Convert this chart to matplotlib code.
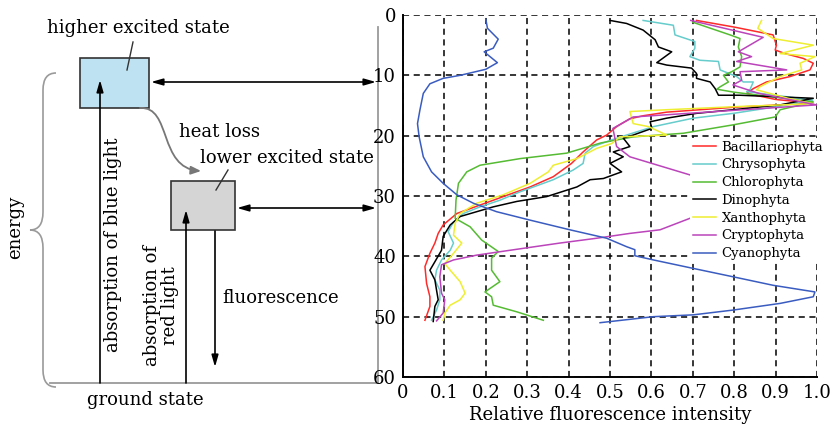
"""
Fluorescence energy diagram next to depth profiles of relative
fluorescence intensity for seven algal groups.
"""

import numpy as np
import matplotlib
matplotlib.use("Agg")
import matplotlib.pyplot as plt
from matplotlib.patches import Rectangle, PathPatch, FancyArrowPatch
from matplotlib.path import Path

plt.rcParams['font.family'] = ['DejaVu Serif']

# ---- profile data (relative intensity, depth) ----
bacillariophyta_x = [0.709, 0.80, 0.894, 0.902, 0.899, 0.923, 0.967, 0.991, 0.983, 0.935, 0.878,
                     0.846, 0.830, 0.90, 0.99, 0.798, 0.637, 0.580, 0.548, 0.516, 0.492, 0.468,
                     0.435, 0.407, 0.363, 0.307, 0.242, 0.186, 0.130, 0.097, 0.085, 0.077, 0.065,
                     0.053, 0.057, 0.065, 0.065, 0.053]
bacillariophyta_y = [0.9, 2.0, 3.3, 5.0, 5.8, 6.4, 7.2, 8.0, 9.1, 10.2, 11.1,
                     12.2, 13.0, 14.0, 14.6, 15.3, 16.1, 16.7, 17.2, 18.5, 19.9, 20.7,
                     22.7, 24.6, 26.8, 28.5, 30.1, 31.5, 32.9, 34.8, 36.2, 37.8, 39.5,
                     41.7, 44.5, 46.7, 48.3, 50.6]

chrysophyta_x = [0.580, 0.653, 0.657, 0.705, 0.705, 0.693, 0.717, 0.762, 0.766, 0.806, 0.822,
                 0.846, 0.838, 0.830, 0.99, 0.902, 0.798, 0.701, 0.605, 0.540, 0.504, 0.460,
                 0.440, 0.435, 0.411, 0.363, 0.283, 0.234, 0.186, 0.146, 0.122, 0.109, 0.122,
                 0.114, 0.093, 0.081, 0.077, 0.089, 0.089, 0.081, 0.069]
chrysophyta_y = [0.9, 1.7, 3.3, 4.4, 5.5, 6.9, 7.5, 7.7, 9.1, 10.2, 11.1,
                 11.1, 12.4, 12.7, 14.1, 15.2, 16.3, 17.1, 18.5, 19.9, 20.7, 21.8,
                 22.9, 24.6, 25.7, 27.3, 29.3, 30.7, 31.8, 32.9, 34.3, 35.9, 37.8,
                 39.0, 40.6, 42.3, 43.9, 45.6, 47.2, 48.9, 50.6]

chlorophyta_x = [0.70, 0.790, 0.814, 0.810, 0.818, 0.814, 0.794, 0.774, 0.786, 0.766, 0.758,
                 0.80, 0.991, 0.911, 0.899, 0.798, 0.677, 0.556, 0.478, 0.395, 0.283, 0.186,
                 0.154, 0.134, 0.128, 0.126, 0.162, 0.190, 0.230, 0.214, 0.214, 0.234, 0.198,
                 0.214, 0.218, 0.275, 0.339]
chlorophyta_y = [1.2, 3.3, 3.9, 5.3, 6.9, 8.6, 9.4, 10.0, 11.1, 11.9, 12.3,
                 12.8, 14.4, 15.7, 16.9, 18.2, 19.6, 20.2, 21.2, 22.9, 23.8, 24.9,
                 26.0, 27.9, 30.7, 33.7, 35.1, 37.3, 39.2, 40.3, 42.3, 44.2, 45.9,
                 46.7, 48.1, 49.2, 50.6]

dinophyta_x = [0.500, 0.540, 0.580, 0.609, 0.617, 0.649, 0.613, 0.637, 0.697, 0.709, 0.709,
               0.742, 0.754, 0.762, 0.814, 0.991, 0.911, 0.798, 0.709, 0.637, 0.597, 0.601,
               0.556, 0.532, 0.548, 0.508, 0.532, 0.500, 0.528, 0.484, 0.452, 0.420, 0.347,
               0.275, 0.218, 0.138, 0.114, 0.097, 0.093, 0.077, 0.065, 0.077, 0.081, 0.085,
               0.077, 0.073]
dinophyta_y = [0.9, 1.4, 2.5, 4.1, 5.3, 6.1, 7.9, 8.3, 8.8, 9.7, 10.5,
               11.1, 12.2, 13.3, 13.3, 13.8, 14.9, 15.7, 16.3, 17.1, 17.7, 18.8,
               19.9, 20.4, 21.8, 22.7, 23.5, 24.6, 26.0, 27.1, 27.3, 28.5, 30.1,
               30.9, 31.8, 33.4, 34.8, 36.7, 39.0, 40.9, 42.3, 43.9, 45.6, 47.2,
               48.3, 50.8]

xanthophyta_x = [0.866, 0.857, 0.894, 0.991, 0.911, 0.995, 0.959, 0.963, 0.911, 0.862, 0.854,
                 0.93, 0.99, 0.80, 0.637, 0.548, 0.556, 0.593, 0.637, 0.524, 0.504, 0.468,
                 0.420, 0.363, 0.351, 0.307, 0.242, 0.178, 0.138, 0.126, 0.122, 0.142, 0.122,
                 0.101, 0.114, 0.138, 0.150, 0.138, 0.114, 0.101, 0.097]
xanthophyta_y = [0.9, 2.2, 3.9, 5.0, 6.4, 6.9, 8.0, 9.1, 10.2, 11.9, 12.4,
                 13.8, 14.7, 15.2, 15.7, 16.0, 18.0, 18.5, 19.9, 20.2, 21.3, 22.1,
                 23.8, 24.9, 26.0, 27.9, 29.8, 31.2, 32.9, 34.5, 36.5, 37.8, 39.5,
                 41.2, 42.3, 44.2, 46.1, 47.2, 48.1, 49.4, 50.6]

cryptophyta_x = [0.695, 0.870, 0.810, 0.842, 0.806, 0.927, 0.814, 0.818, 0.797, 0.86, 0.999,
                 0.556, 0.507, 0.516, 0.548, 0.693, 0.75, 0.75, 0.693, 0.621, 0.548, 0.468,
                 0.379, 0.258, 0.178, 0.122, 0.093, 0.089, 0.093, 0.101, 0.097, 0.081]
cryptophyta_y = [0.9, 3.7, 6.1, 6.9, 7.7, 9.1, 9.4, 10.8, 11.6, 13.0, 14.9,
                 16.9, 18.8, 21.8, 23.5, 26.5, 28.5, 32.0, 33.7, 35.6, 36.2, 37.0,
                 37.8, 39.0, 39.8, 40.6, 41.4, 43.4, 46.1, 47.2, 49.4, 50.7]

cyanophyta_x = [0.200, 0.204, 0.230, 0.218, 0.196, 0.228, 0.200, 0.138, 0.097, 0.065, 0.049,
                0.041, 0.035, 0.039, 0.049, 0.069, 0.097, 0.130, 0.170, 0.226, 0.307, 0.403,
                0.492, 0.540, 0.560, 0.560, 0.605, 0.701, 0.798, 0.894, 0.995, 0.991, 0.911,
                0.798, 0.701, 0.605, 0.476]
cyanophyta_y = [0.7, 2.2, 4.0, 5.5, 6.1, 7.9, 9.0, 10.0, 10.5, 11.4, 13.0,
                15.7, 18.0, 20.2, 23.5, 26.0, 27.9, 29.8, 31.2, 32.6, 34.0, 35.6,
                37.0, 38.4, 38.9, 39.9, 40.6, 42.0, 43.4, 44.8, 45.9, 46.7, 47.8,
                48.9, 49.7, 50.0, 51.0]

series = [
    ('Bacillariophyta', bacillariophyta_x, bacillariophyta_y, '#ff2a2a'),
    ('Chrysophyta', chrysophyta_x, chrysophyta_y, '#66cccc'),
    ('Chlorophyta', chlorophyta_x, chlorophyta_y, '#55bb33'),
    ('Dinophyta', dinophyta_x, dinophyta_y, '#000000'),
    ('Xanthophyta', xanthophyta_x, xanthophyta_y, '#eeee33'),
    ('Cryptophyta', cryptophyta_x, cryptophyta_y, '#bb44bb'),
    ('Cyanophyta', cyanophyta_x, cyanophyta_y, '#3a5cc0'),
]

x_ticks = [0, 0.1, 0.2, 0.3, 0.4, 0.5, 0.6, 0.7, 0.8, 0.9, 1.0]
x_tick_labels = ['0', '0.1', '0.2', '0.3', '0.4', '0.5', '0.6', '0.7', '0.8', '0.9', '1.0']
y_ticks = [0, 10, 20, 30, 40, 50, 60]

W, H = 834, 429
fig = plt.figure(figsize=(W / 100, H / 100), dpi=100)

# ---- diagram overlay in pixel coordinates ----
dg = fig.add_axes([0, 0, 1, 1])
dg.set_xlim(0, W)
dg.set_ylim(H, 0)
dg.axis('off')

frame_col = '#9a9a9a'
dg.plot([378, 378], [27, 383], color=frame_col, lw=1.3)
dg.plot([50, 378], [383, 383], color=frame_col, lw=1.3)

# curly brace
brace = Path(
    [(56, 73), (43, 73), (43, 90), (43, 212), (43, 230), (30, 230),
     (43, 230), (43, 248), (43, 370), (43, 387), (56, 387)],
    [Path.MOVETO, Path.CURVE3, Path.CURVE3, Path.LINETO, Path.CURVE3, Path.CURVE3,
     Path.CURVE3, Path.CURVE3, Path.LINETO, Path.CURVE3, Path.CURVE3])
dg.add_patch(PathPatch(brace, facecolor='none', edgecolor=frame_col, lw=1.2))

dg.add_patch(Rectangle((80, 58), 69, 50, facecolor='#bfe2f2', edgecolor='#333333', lw=1.2))
dg.add_patch(Rectangle((171, 181), 64, 49, facecolor='#d5d5d5', edgecolor='#333333', lw=1.2))

arrow_kw = dict(arrowstyle='<|-|>,head_length=0.7,head_width=0.2', color='black', lw=1.2,
                shrinkA=0, shrinkB=0)
dg.annotate('', xy=(376, 82), xytext=(151, 82), arrowprops=arrow_kw)
dg.annotate('', xy=(376, 208), xytext=(237, 208), arrowprops=arrow_kw)

up_kw = dict(arrowstyle='-|>,head_length=0.7,head_width=0.2', color='black', lw=1.2,
             shrinkA=0, shrinkB=0)
dg.annotate('', xy=(100, 80), xytext=(100, 383), arrowprops=up_kw)
dg.annotate('', xy=(186, 210), xytext=(186, 383), arrowprops=up_kw)
dg.annotate('', xy=(215, 367), xytext=(215, 231), arrowprops=up_kw)

# heat loss curved arrow (S-shaped)
heat_path = Path([(140, 108), (172, 106), (158, 168), (201, 171)],
                 [Path.MOVETO, Path.CURVE4, Path.CURVE4, Path.CURVE4])
dg.add_patch(FancyArrowPatch(path=heat_path,
                             arrowstyle='-|>,head_length=6,head_width=2.5',
                             color='#777777', lw=1.3))

dg.plot([133, 127], [42, 70], color='#333333', lw=1.0)
dg.plot([228, 216], [170, 190], color='#333333', lw=1.0)

fs = 13
dg.text(138, 28, 'higher excited state', fontsize=fs, ha='center', va='center')
dg.text(179, 132, 'heat loss', fontsize=fs, ha='left', va='center')
dg.text(200, 158, 'lower excited state', fontsize=fs, ha='left', va='center')
dg.text(222, 298, 'fluorescence', fontsize=fs, ha='left', va='center')
dg.text(145, 400, 'ground state', fontsize=fs, ha='center', va='center')
dg.text(15, 227, 'energy', fontsize=fs, ha='center', va='center', rotation=90)
dg.text(113, 245, 'absorption of blue light', fontsize=fs, ha='center', va='center', rotation=90)
dg.text(161, 306, 'absorption of\nred light', fontsize=fs, ha='center', va='center',
        rotation=90, linespacing=1.0)

# ---- profile plot ----
ax = fig.add_axes([403 / W, 1 - 377 / H, 414 / W, 362 / H])
for name, xs, ys, col in series:
    ax.plot(xs, ys, color=col, lw=1.1, label=name)

ax.set_xlim(0, 1.0)
ax.set_ylim(60, 0)
ax.set_xticks(x_ticks)
ax.set_xticklabels(x_tick_labels)
ax.set_yticks(y_ticks)
ax.tick_params(length=0, labelsize=13, pad=5)
ax.grid(True, color='black', ls=(0, (4, 3)), lw=1.1)
ax.spines['top'].set_visible(False)
ax.spines['right'].set_visible(False)
ax.spines['left'].set_linewidth(1.4)
ax.spines['bottom'].set_linewidth(1.4)
ax.set_xlabel('Relative fluorescence intensity', fontsize=13, labelpad=3)
ax.patch.set_alpha(0)

leg = ax.legend(loc='upper left', bbox_to_anchor=(690 / W, 1 - 138 / H),
                bbox_transform=fig.transFigure, fontsize=9.5, frameon=True,
                fancybox=False, edgecolor='none', facecolor='white', framealpha=1,
                handlelength=1.8, handletextpad=0.4, labelspacing=0.36,
                borderpad=0.2, borderaxespad=0)

fig.savefig('out.png', dpi=100)
